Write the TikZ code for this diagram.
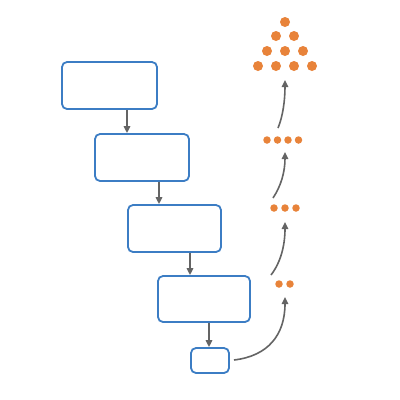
\documentclass[tikz,border=0pt]{standalone}
\usetikzlibrary{arrows.meta}
\definecolor{boxblue}{RGB}{60,125,196}
\definecolor{dotorange}{RGB}{232,131,58}
\definecolor{arrgray}{RGB}{100,100,100}
\tikzset{
  stagebox/.style={draw=boxblue,line width=1.8pt,rounded corners=5pt,fill=white,inner sep=0pt},
  bigdot/.style={circle,fill=dotorange,inner sep=0pt,minimum size=10pt},
  smalldot/.style={circle,fill=dotorange,inner sep=0pt,minimum size=7.5pt},
  flow/.style={draw=arrgray,line width=1.6pt,-{Triangle[length=7pt,width=6.5pt]}},
}
\begin{document}
\begin{tikzpicture}[x=1pt,y=-1pt]
\useasboundingbox[fill=white] (0,0) rectangle (400,400);
% boxes
\node[stagebox,minimum width=95pt,minimum height=47pt] (b1) at (109.5,85.5) {};
\node[stagebox,minimum width=94pt,minimum height=47pt] (b2) at (142,157.5) {};
\node[stagebox,minimum width=93pt,minimum height=47pt] (b3) at (174.5,228.5) {};
\node[stagebox,minimum width=92pt,minimum height=46pt] (b4) at (204,299) {};
\node[stagebox,minimum width=38pt,minimum height=25pt] (b5) at (210,360.5) {};
% vertical arrows
\draw[flow] (b1.south -| 127,0) -- (b2.north -| 127,0);
\draw[flow] (b2.south -| 159,0) -- (b3.north -| 159,0);
\draw[flow] (b3.south -| 190,0) -- (b4.north -| 190,0);
\draw[flow] (b4.south -| 209,0) -- (b5.north -| 209,0);
% dots: triangle
\node[bigdot] (t1) at (285,22) {};
\node[bigdot] (t2) at (276,36) {};
\node[bigdot] (t3) at (294,36) {};
\node[bigdot] (t4) at (267,51) {};
\node[bigdot] (t5) at (285,51) {};
\node[bigdot] (t6) at (303,51) {};
\node[bigdot] (t7) at (258,66) {};
\node[bigdot] (t8) at (276,66) {};
\node[bigdot] (t9) at (294,66) {};
\node[bigdot] (t10) at (312,66) {};
% row of four
\node[smalldot] (f1) at (267,140) {};
\node[smalldot] (f2) at (277.5,140) {};
\node[smalldot] (f3) at (288,140) {};
\node[smalldot] (f4) at (298.5,140) {};
% row of three
\node[smalldot] (h1) at (274,208) {};
\node[smalldot] (h2) at (285,208) {};
\node[smalldot] (h3) at (296,208) {};
% row of two
\node[smalldot] (w1) at (279,284) {};
\node[smalldot] (w2) at (290,284) {};
% curved arrows
\coordinate (c1s) at (234,360);
\coordinate (c1e) at (285,297);
\coordinate (c2s) at (271,275);
\coordinate (c2e) at (285,222);
\coordinate (c3s) at (273,198);
\coordinate (c3e) at (285,152);
\coordinate (c4s) at (278,128);
\coordinate (c4e) at (285,80);
\draw[flow] (c1s) .. controls (268,356) and (285,335) .. (c1e);
\draw[flow] (c2s) .. controls (281,262) and (285,245) .. (c2e);
\draw[flow] (c3s) .. controls (281,186) and (285,172) .. (c3e);
\draw[flow] (c4s) .. controls (283,116) and (285,100) .. (c4e);
\end{tikzpicture}
\end{document}
